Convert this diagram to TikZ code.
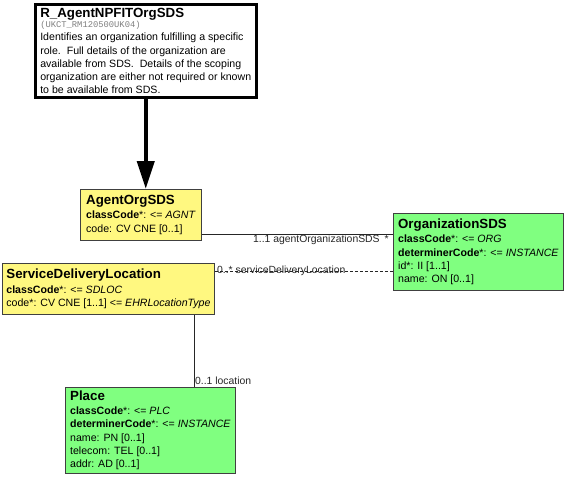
\documentclass[tikz,border=0pt]{standalone}
\usepackage{fontspec}
\setmainfont{Liberation Sans}
\setmonofont{Liberation Mono}
\usetikzlibrary{arrows.meta, positioning}
\newcommand{\clsname}[1]{{\fontsize{13.3}{15}\selectfont\bfseries #1}}

\begin{document}
\begin{tikzpicture}[
  x=1pt, y=-1pt,
  font=\fontsize{10.6}{13.2}\selectfont,
  box/.style={draw=black!75, line width=0.8pt, anchor=north west, align=left, inner xsep=4pt, inner ysep=3.5pt},
  rmim/.style={box, draw=black, line width=2.5pt, fill=white, inner xsep=4pt},
  act/.style={box, fill=yellow!50},
  ent/.style={box, fill=green!50},
  assoc/.style={black!85, line width=0.6pt},
  gen/.style={line width=4pt, -{Triangle[length=28pt, width=17pt]}},
  rolename/.style={font=\fontsize{10.4}{12}\selectfont, inner sep=1pt}
]
\useasboundingbox (0,0) rectangle (564,477);

\node[rmim, minimum width=221pt, minimum height=93pt] (rmim) at (34,3) {\clsname{R\_AgentNPFITOrgSDS}\\[-3pt]
  {\ttfamily\fontsize{8.8}{10}\selectfont\color{gray}(UKCT\_RM120500UK04)}\\[0.5pt]
  Identifies an organization fulfilling a specific\\
  role.\ \ Full details of the organization are\\
  available from SDS.\ \ Details of the scoping\\
  organization are either not required or known\\
  to be available from SDS.};
\node[act, minimum width=121pt, minimum height=51pt] (agent) at (80,189) {\clsname{AgentOrgSDS}\\[1pt]
  \textbf{classCode}*: <= \textit{AGNT}\\
  code: CV CNE [0..1]};
\node[ent, minimum width=170pt, minimum height=77pt] (org) at (393,213) {\clsname{OrganizationSDS}\\[1pt]
  \textbf{classCode}*: <= \textit{ORG}\\
  \textbf{determinerCode}*: <= \textit{INSTANCE}\\
  id*: II [1..1]\\
  name: ON [0..1]};
\node[act, minimum width=212pt, minimum height=51pt] (sdl) at (2,263) {\clsname{ServiceDeliveryLocation}\\[1pt]
  \textbf{classCode}*: <= \textit{SDLOC}\\
  code*: CV CNE [1..1] <= \textit{EHRLocationType}};
\node[ent, minimum width=170pt, minimum height=82pt] (place) at (65,387) {\clsname{Place}\\[1pt]
  \textbf{classCode}*: <= \textit{PLC}\\
  \textbf{determinerCode}*: <= \textit{INSTANCE}\\
  name: PN [0..1]\\
  telecom: TEL [0..1]\\
  addr: AD [0..1]};

\draw[gen] (rmim.south) -- (rmim.south |- agent.north);
\draw[assoc] ([yshift=7pt]agent.south east) coordinate (a1) -- (a1 -| org.west)
  node[rolename, anchor=north east, pos=1, xshift=-12pt] (a1role) {1..1 agentOrganizationSDS}
  node[rolename, anchor=north east, pos=1, xshift=-3pt] (a1mult) {*};
\draw[assoc, dash pattern=on 3pt off 2pt] ([yshift=-8pt]sdl.north east) coordinate (d1) -- (d1 -| org.west)
  node[rolename, anchor=west, pos=0, xshift=1pt] (d1role) {0..* serviceDeliveryLocation};
\draw[assoc] ([xshift=-21pt]sdl.south east) coordinate (v1) -- (v1 |- place.north)
  node[rolename, anchor=south west, pos=1, yshift=1pt] (v1role) {0..1 location};
\end{tikzpicture}
\end{document}
